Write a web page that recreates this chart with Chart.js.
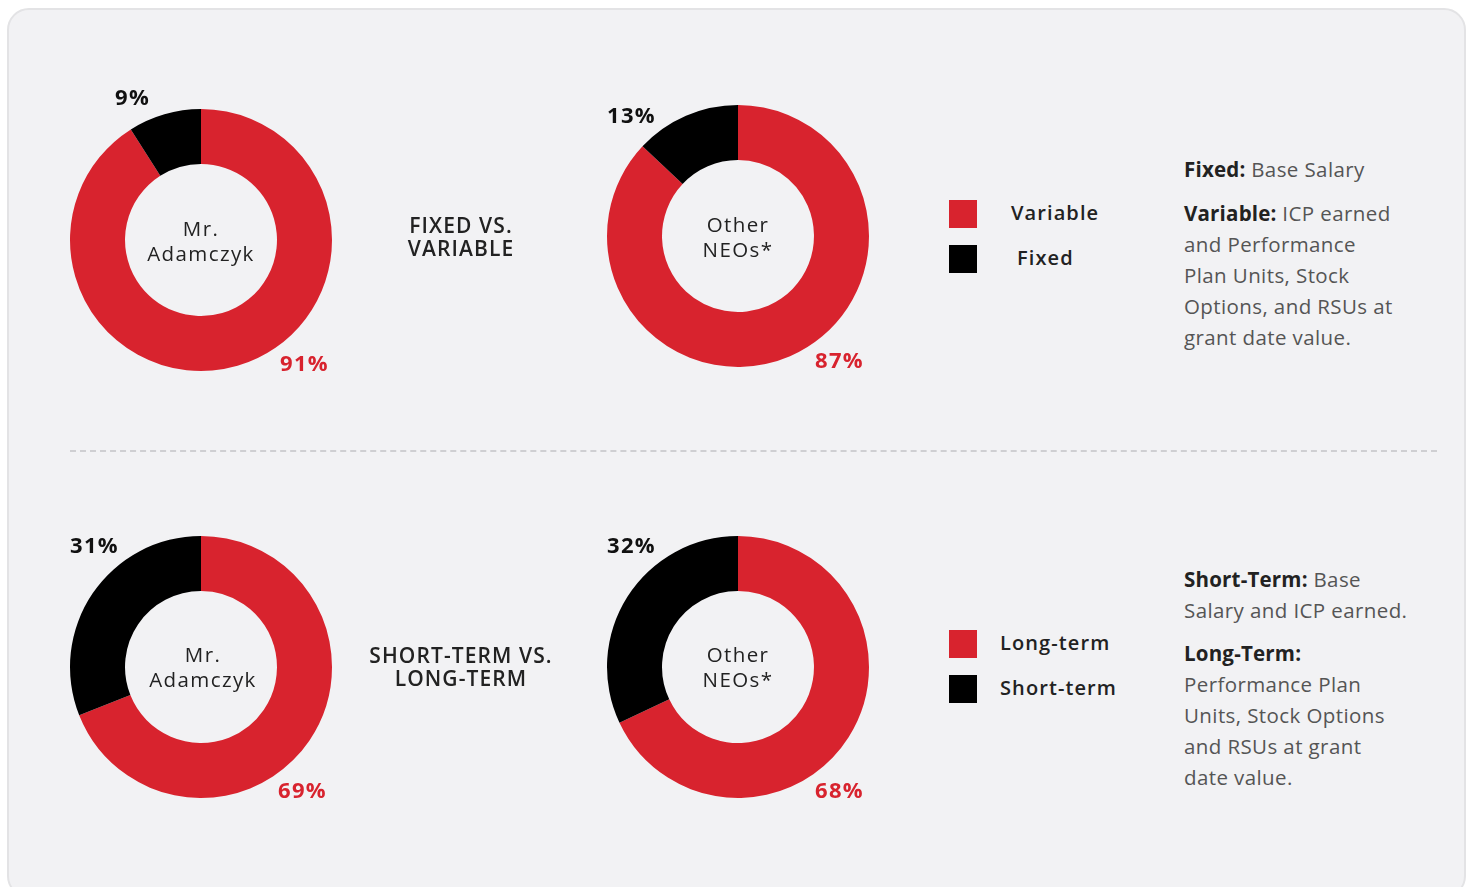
<!DOCTYPE html>
<html>
<head>
<meta charset="utf-8">
<script src="https://cdn.jsdelivr.net/npm/chart.js@4.4.1/dist/chart.umd.min.js"></script>
<style>
  body { margin:0; background:#fff; font-family: "Open Sans", sans-serif; }
  #panel { position:absolute; left:7px; top:8px; width:1459px; height:890px; background:#f2f2f4;
           border:2px solid #e3e3e5; border-radius:22px; box-sizing:border-box; }
  .donut { position:absolute; width:264px; height:264px; }
  .pct { position:absolute; font-weight:700; font-size:22px; line-height:24px; letter-spacing:1.3px; }
  .center { position:absolute; width:200px; text-align:center; font-size:20.5px; line-height:25px; color:#222; letter-spacing:1.4px; font-weight:500; }
  .title { position:absolute; width:300px; text-align:center; font-size:21px; line-height:23px; color:#222; font-weight:600; letter-spacing:1.1px; }
  .leg { position:absolute; font-size:20px; font-weight:600; color:#222; letter-spacing:1.1px; }
  .sq { position:absolute; width:28px; height:28px; }
  .desc { position:absolute; left:1184px; width:290px; font-size:20.5px; line-height:31px; color:#555; white-space:nowrap; letter-spacing:0.4px; }
  .desc b { color:#222; font-weight:700; letter-spacing:0.2px; }
  #dash { position:absolute; left:70px; top:450px; width:1367px; height:0; border-top:2px dashed #cfcfd2; }
</style>
</head>
<body>
<div id="panel"></div>
<div id="dash"></div>

<canvas id="c1" class="donut" style="left:69px;top:108px"></canvas>
<canvas id="c2" class="donut" style="left:606px;top:104px"></canvas>
<canvas id="c3" class="donut" style="left:69px;top:535px"></canvas>
<canvas id="c4" class="donut" style="left:606px;top:535px"></canvas>

<div class="center" style="left:101px;top:216px">Mr.<br>Adamczyk</div>
<div class="center" style="left:638px;top:212px">Other<br>NEOs*</div>
<div class="center" style="left:103px;top:642px">Mr.<br>Adamczyk</div>
<div class="center" style="left:638px;top:642px">Other<br>NEOs*</div>

<div class="title" style="left:311px;top:214px">FIXED VS.<br>VARIABLE</div>
<div class="title" style="left:311px;top:644px">SHORT-TERM VS.<br>LONG-TERM</div>

<div id="pcts"></div>
<div id="legends"></div>

<div class="desc" style="top:154px"><b>Fixed:</b> Base Salary</div>
<div class="desc" style="top:198px"><b>Variable:</b> ICP earned<br>and Performance<br>Plan Units, Stock<br>Options, and RSUs at<br>grant date value.</div>
<div class="desc" style="top:564px"><b>Short-Term:</b> Base<br>Salary and ICP earned.</div>
<div class="desc" style="top:638px"><b>Long-Term:</b><br>Performance Plan<br>Units, Stock Options<br>and RSUs at grant<br>date value.</div>

<script>
// data
var fvCategories = ['Variable', 'Fixed'];
var fvAdamczyk = [91, 9];
var fvOther = [87, 13];
var stCategories = ['Long-term', 'Short-term'];
var stAdamczyk = [69, 31];
var stOther = [68, 32];

var RED = '#d8232e';
var BLACK = '#000000';

function makeDonut(id, labels, values) {
	return new Chart(document.getElementById(id), {
		type: 'doughnut',
		data: {
			labels: labels,
			datasets: [{
				data: values,
				backgroundColor: [RED, BLACK],
				borderWidth: 0
			}]
		},
		options: {
			responsive: false,
			animation: false,
			cutout: '58%',
			rotation: 0,
			layout: { padding: 1 },
			plugins: { legend: { display: false }, tooltip: { enabled: false } }
		}
	});
}

['c1','c2','c3','c4'].forEach(function(id){
	var c = document.getElementById(id);
	c.width = 264; c.height = 264;
});

makeDonut('c1', fvCategories, fvAdamczyk);
makeDonut('c2', fvCategories, fvOther);
makeDonut('c3', stCategories, stAdamczyk);
makeDonut('c4', stCategories, stOther);

// percentage labels (small = black top-left, big = red bottom-right)
var pctSpots = [
	{ v: fvAdamczyk, small: [115, 84], big: [280, 350] },
	{ v: fvOther, small: [607, 102], big: [815, 347] },
	{ v: stAdamczyk, small: [70, 532], big: [278, 777] },
	{ v: stOther, small: [607, 532], big: [815, 777] }
];
var html = '';
pctSpots.forEach(function(p){
	html += '<div class="pct" style="left:'+p.small[0]+'px;top:'+p.small[1]+'px;color:#111">'+p.v[1]+'%</div>';
	html += '<div class="pct" style="left:'+p.big[0]+'px;top:'+p.big[1]+'px;color:'+RED+'">'+p.v[0]+'%</div>';
});
document.getElementById('pcts').innerHTML = html;

// legends
var legHtml = '';
function legend(cats, top, textLeft) {
	var cols = [RED, BLACK];
	cats.forEach(function(c, i){
		var y = top + i * 45;
		legHtml += '<div class="sq" style="left:949px;top:'+y+'px;background:'+cols[i]+'"></div>';
		legHtml += '<div class="leg" style="left:'+textLeft[i]+'px;top:'+(y-1)+'px">'+c+'</div>';
	});
}
legend(fvCategories, 200, [1011, 1017]);
legend(stCategories, 630, [1000, 1000]);
document.getElementById('legends').innerHTML = legHtml;
</script>
</body>
</html>
